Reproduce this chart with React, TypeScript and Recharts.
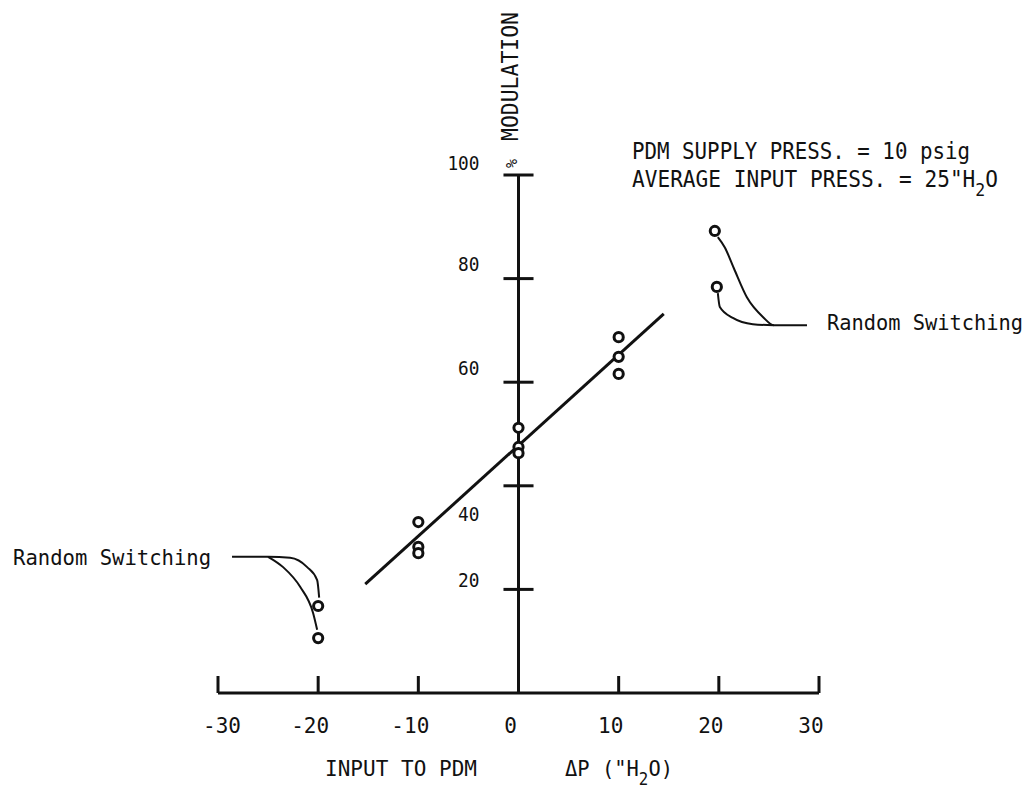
import { ComposedChart, XAxis, YAxis, Scatter, Line, ReferenceLine } from "recharts";

// x axis: input to PDM, delta P ("H2O); y axis: % modulation
const xTicks = [-30, -20, -10, 0, 10, 20, 30];
const yTicks = [20, 40, 60, 80, 100];

// measured points (open circles)
const measured = [
  { x: -20, y: 16.8 },
  { x: -20, y: 10.6 },
  { x: -10, y: 33.0 },
  { x: -10, y: 28.2 },
  { x: -10, y: 27.0 },
  { x: 0, y: 51.2 },
  { x: 0, y: 47.5 },
  { x: 0, y: 46.3 },
  { x: 10, y: 68.7 },
  { x: 10, y: 64.9 },
  { x: 10, y: 61.6 },
  { x: 19.6, y: 89.2 },
  { x: 19.8, y: 78.4 },
];

// straight fit through the data
const fitLine = [
  { x: -15.3, y: 21.0 },
  { x: 14.5, y: 73.2 },
];

// leader curves for the "Random Switching" notes
const leaderHighUpper = [
  { x: 19.9, y: 88.0 },
  { x: 20.6, y: 86.0 },
  { x: 21.5, y: 82.0 },
  { x: 22.8, y: 76.4 },
  { x: 24.4, y: 72.6 },
  { x: 25.5, y: 71.0 },
  { x: 28.8, y: 71.0 },
];
const leaderHighLower = [
  { x: 19.9, y: 77.2 },
  { x: 20.1, y: 74.5 },
  { x: 21.4, y: 72.4 },
  { x: 23.4, y: 71.2 },
  { x: 25.5, y: 71.0 },
];
const leaderLowOuter = [
  { x: -28.6, y: 26.3 },
  { x: -25.0, y: 26.3 },
  { x: -22.8, y: 26.1 },
  { x: -21.1, y: 24.3 },
  { x: -20.1, y: 21.8 },
  { x: -19.9, y: 18.4 },
];
const leaderLowInner = [
  { x: -25.0, y: 26.3 },
  { x: -23.5, y: 24.3 },
  { x: -21.8, y: 20.5 },
  { x: -20.5, y: 15.4 },
  { x: -20.1, y: 12.2 },
];

const INK = "#111";
const FONT = "'DejaVu Sans Mono', 'Liberation Mono', monospace";

// the y labels don't sit evenly on their ticks in the original
const yLabelShift: Record<number, number> = { 100: -5, 80: -8, 60: -7, 40: 35, 20: -2 };

function XTick(props: any) {
  const { x, y, payload } = props;
  const dx = payload.value === -30 ? 4 : -8;
  return (
    <g>
      <line x1={x} x2={x} y1={y} y2={y - 17} stroke={INK} strokeWidth={3} />
      <text
        x={x + dx}
        y={y + 40}
        textAnchor="middle"
        fontFamily={FONT}
        fontSize={21}
        fill={INK}
      >
        {payload.value}
      </text>
    </g>
  );
}

function Ring(props: any) {
  const { cx, cy } = props;
  return <circle cx={cx} cy={cy} r={4.6} fill="#fff" stroke={INK} strokeWidth={3} />;
}

export default function App() {
  return (
    <div style={{ position: "absolute", left: 0, top: 0, width: 1032, height: 787, background: "#fff" }}>
      <ComposedChart
        width={1032}
        height={787}
        margin={{ top: 175, right: 213, bottom: 64, left: 218 }}
      >
        <XAxis
          type="number"
          dataKey="x"
          domain={[-30, 30]}
          ticks={xTicks}
          allowDataOverflow
          height={30}
          tickSize={0}
          tickMargin={0}
          tick={<XTick />}
          axisLine={{ stroke: INK, strokeWidth: 3 }}
          tickLine={false}
        />
        <YAxis type="number" dataKey="y" domain={[0, 100]} hide allowDataOverflow />

        <ReferenceLine x={0} stroke={INK} strokeWidth={3} />
        {yTicks.map((t) => (
          <ReferenceLine
            key={t}
            segment={[
              { x: -1.5, y: t },
              { x: 1.5, y: t },
            ]}
            stroke={INK}
            strokeWidth={3}
            label={(p: any) => (
              <text
                x={p.viewBox.x - 24}
                y={p.viewBox.y + yLabelShift[t]}
                textAnchor="end"
                fontFamily={FONT}
                fontSize={20}
                textLength={String(t).length * 10.7}
                lengthAdjust="spacingAndGlyphs"
                fill={INK}
              >
                {t}
              </text>
            )}
          />
        ))}

        <Line data={fitLine} dataKey="y" type="linear" stroke={INK} strokeWidth={3} dot={false} isAnimationActive={false} />
        <Line data={leaderHighUpper} dataKey="y" type="monotone" stroke={INK} strokeWidth={2} dot={false} isAnimationActive={false} />
        <Line data={leaderHighLower} dataKey="y" type="monotone" stroke={INK} strokeWidth={2} dot={false} isAnimationActive={false} />
        <Line data={leaderLowOuter} dataKey="y" type="monotone" stroke={INK} strokeWidth={2} dot={false} isAnimationActive={false} />
        <Line data={leaderLowInner} dataKey="y" type="monotone" stroke={INK} strokeWidth={2} dot={false} isAnimationActive={false} />
        <Scatter data={measured} dataKey="y" shape={<Ring />} isAnimationActive={false} />
      </ComposedChart>

      <svg
        width={1032}
        height={787}
        style={{ position: "absolute", left: 0, top: 0, pointerEvents: "none" }}
        fontFamily={FONT}
        fill={INK}
      >
        <text transform="translate(518,141) rotate(-90)" fontSize={23} textLength={129} lengthAdjust="spacingAndGlyphs">
          MODULATION
        </text>
        <text transform="translate(517,168) rotate(-90)" fontSize={15}>%</text>

        <text x={632} y={159} fontSize={23} textLength={338} lengthAdjust="spacingAndGlyphs">
          PDM SUPPLY PRESS. = 10 psig
        </text>
        <text x={632} y={187} fontSize={23} textLength={366} lengthAdjust="spacingAndGlyphs">
          AVERAGE INPUT PRESS. = 25"H<tspan dy={9} fontSize={18}>2</tspan>
          <tspan dy={-9}>O</tspan>
        </text>

        <text x={827} y={330} fontSize={22} textLength={196} lengthAdjust="spacingAndGlyphs">
          Random Switching
        </text>
        <text x={13} y={565} fontSize={22} textLength={198} lengthAdjust="spacingAndGlyphs">
          Random Switching
        </text>

        <text x={325} y={776} fontSize={22} textLength={152} lengthAdjust="spacingAndGlyphs">
          INPUT TO PDM
        </text>
        <text x={565} y={776} fontSize={22} textLength={108} lengthAdjust="spacingAndGlyphs">
          ΔP ("H<tspan dy={9} fontSize={17}>2</tspan>
          <tspan dy={-9}>O)</tspan>
        </text>
      </svg>
    </div>
  );
}
